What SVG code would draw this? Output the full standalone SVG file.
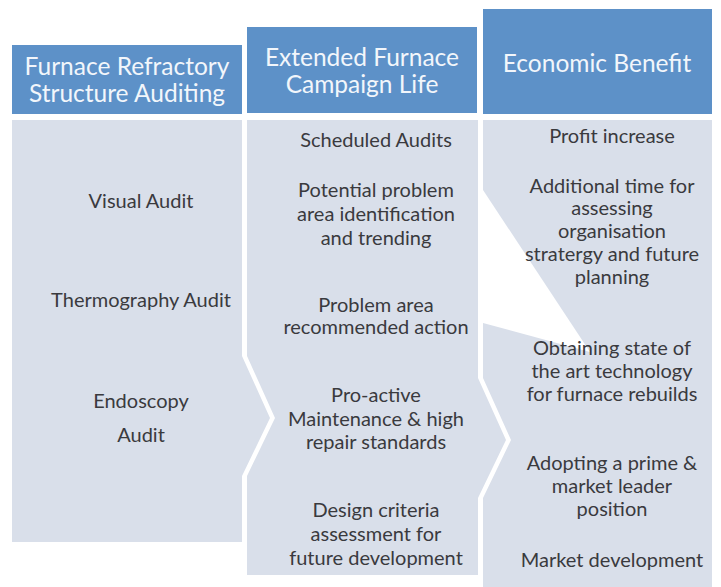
<svg xmlns="http://www.w3.org/2000/svg" width="721" height="587" viewBox="0 0 721 587">
<style>
.hdr{fill:#5d91c8}
.body{fill:#d9dfea}
.ht{font-family:Lato,"Liberation Sans",sans-serif;font-size:24.5px;fill:#f2f6fb;text-anchor:middle}
.bt{font-family:Lato,"Liberation Sans",sans-serif;font-size:20px;fill:#3a3a3e;text-anchor:middle}
</style>
<rect width="721" height="587" fill="#ffffff"/>
<g id="col1">
<rect class="hdr" x="12" y="45" width="230" height="69"/>
<text class="ht" x="127" y="75">Furnace Refractory</text>
<text class="ht" x="127" y="102">Structure Auditing</text>
<path class="body" d="M12,120 H242 V356 L270,418 L242,476 V542 H12 Z"/>
<text class="bt" x="141" y="208">Visual Audit</text>
<text class="bt" x="141" y="307">Thermography Audit</text>
<text class="bt" x="141" y="408">Endoscopy</text>
<text class="bt" x="141" y="442">Audit</text>
</g>
<g id="col2">
<rect class="hdr" x="247" y="27" width="230" height="86"/>
<text class="ht" x="362" y="66">Extended Furnace</text>
<text class="ht" x="362" y="93">Campaign Life</text>
<path class="body" d="M247,120 H478 V378 L506,440 L478,498 V575 H247 V476 L275,418 L247,356 Z"/>
<text class="bt" x="376" y="147">Scheduled Audits</text>
<text class="bt" x="376" y="197">Potential problem</text>
<text class="bt" x="376" y="221">area identification</text>
<text class="bt" x="376" y="245">and trending</text>
<text class="bt" x="376" y="312">Problem area</text>
<text class="bt" x="376" y="334">recommended action</text>
<text class="bt" x="376" y="402">Pro-active</text>
<text class="bt" x="376" y="426">Maintenance &amp; high</text>
<text class="bt" x="376" y="449">repair standards</text>
<text class="bt" x="376" y="517">Design criteria</text>
<text class="bt" x="376" y="541">assessment for</text>
<text class="bt" x="376" y="565">future development</text>
</g>
<g id="col3">
<rect class="hdr" x="483" y="9" width="229" height="105"/>
<text class="ht" x="597" y="72">Economic Benefit</text>
<path class="body" d="M483,120 H712 V587 H483 V498 L511,440 L483,378 Z"/>
<polygon points="483,190 590,352 483,323" fill="#ffffff"/>
<text class="bt" x="612" y="143">Profit increase</text>
<text class="bt" x="612" y="193">Additional time for</text>
<text class="bt" x="612" y="215">assessing</text>
<text class="bt" x="612" y="238">organisation</text>
<text class="bt" x="612" y="261">stratergy and future</text>
<text class="bt" x="612" y="284">planning</text>
<text class="bt" x="612" y="355">Obtaining state of</text>
<text class="bt" x="612" y="378">the art technology</text>
<text class="bt" x="612" y="401">for furnace rebuilds</text>
<text class="bt" x="612" y="470">Adopting a prime &amp;</text>
<text class="bt" x="612" y="493">market leader</text>
<text class="bt" x="612" y="516">position</text>
<text class="bt" x="612" y="567">Market development</text>
</g>
<g id="connectors"/>
</svg>
